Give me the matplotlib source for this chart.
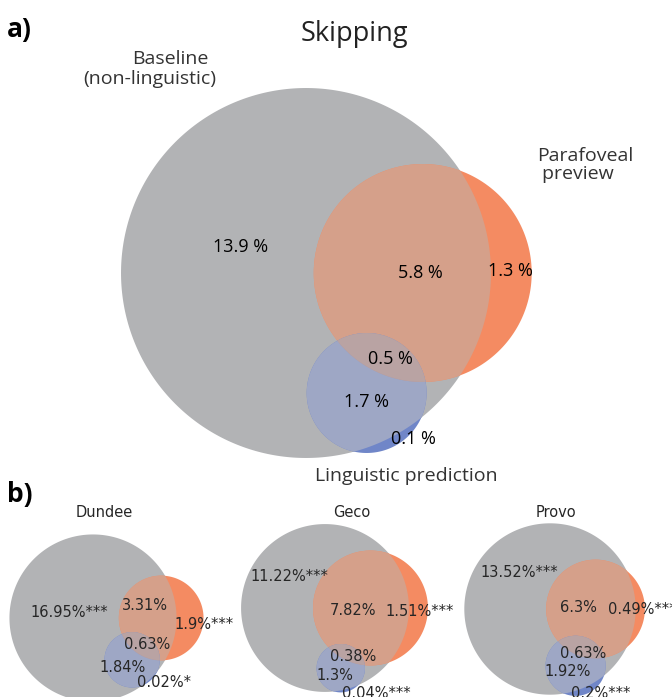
import math
import matplotlib
matplotlib.use("Agg")
import matplotlib.pyplot as plt
from matplotlib.patches import Polygon

# ---------------------------------------------------------------------------
# Data: explained-variance shares per Venn region
# region order: (A only, B only, A&B, C only, A&C, B&C, A&B&C)
# A = baseline (non-linguistic), B = parafoveal preview, C = linguistic prediction
# ---------------------------------------------------------------------------
skipping_regions = [13.9, 1.3, 5.8, 0.1, 1.7, 0.0, 0.5]

corpus_names = ["Dundee", "Geco", "Provo"]
dundee_regions = [16.95, 1.9, 3.31, 0.02, 1.84, 0.0, 0.63]
geco_regions = [11.22, 1.51, 7.82, 0.04, 1.3, 0.0, 0.38]
provo_regions = [13.52, 0.49, 6.3, 0.2, 1.92, 0.0, 0.63]

dundee_stars = ["***", "***", "", "*", "", "", ""]
geco_stars = ["***", "***", "", "***", "", "", ""]
provo_stars = ["***", "***", "", "***", "", "", ""]

set_labels = ["Baseline", "(non-linguistic)", "Parafoveal", " preview",
              "Linguistic prediction"]

# ---------------------------------------------------------------------------
# Colours for each painted layer
GRAY = "#b2b3b5"
ORANGE = "#f48b62"
BLUE = "#7086c8"
GRAY_ORANGE = "#d5a08a"
GRAY_BLUE = "#9ea7c5"
ORANGE_BLUE = "#b497a0"
TRIPLE = "#b9a3a3"

OPEN = ["Open Sans", "DejaVu Sans"]
DEJAVU = ["DejaVu Sans"]
TXT_B = "#262626"


def lens_area(r1, r2, d):
    if d >= r1 + r2:
        return 0.0
    if d <= abs(r1 - r2):
        return math.pi * min(r1, r2) ** 2
    a1 = r1 ** 2 * math.acos((d * d + r1 * r1 - r2 * r2) / (2 * d * r1))
    a2 = r2 ** 2 * math.acos((d * d + r2 * r2 - r1 * r1) / (2 * d * r2))
    k = 0.5 * math.sqrt(max(0.0, (-d + r1 + r2) * (d + r1 - r2) *
                                 (d - r1 + r2) * (d + r1 + r2)))
    return a1 + a2 - k


def distance_for_area(r1, r2, area):
    lo, hi = abs(r1 - r2), r1 + r2
    for _ in range(80):
        mid = 0.5 * (lo + hi)
        if lens_area(r1, r2, mid) > area:
            lo = mid
        else:
            hi = mid
    return 0.5 * (lo + hi)


def venn_layout(regions, scale, anchor):
    """Area-proportional three-circle layout in pixel coordinates."""
    abc_, aBc, ABc, abC, AbC, aBC, ABC = regions
    total = sum(regions)
    size_a = abc_ + ABc + AbC + ABC
    size_b = aBc + ABc + aBC + ABC
    size_c = abC + AbC + aBC + ABC
    unit = math.pi * scale ** 2 / total          # px^2 per percent
    ra = math.sqrt(size_a * unit / math.pi)
    rb = math.sqrt(size_b * unit / math.pi)
    rc = math.sqrt(size_c * unit / math.pi)
    d_ab = distance_for_area(ra, rb, (ABc + ABC) * unit)
    d_ac = distance_for_area(ra, rc, (AbC + ABC) * unit)
    d_bc = distance_for_area(rb, rc, (aBC + ABC) * unit)
    cx = (d_ab ** 2 + d_ac ** 2 - d_bc ** 2) / (2 * d_ab)
    cy = math.sqrt(max(0.0, d_ac ** 2 - cx ** 2))
    x0, y0 = anchor
    return [((x0, y0), ra), ((x0 + d_ab, y0), rb), ((x0 + cx, y0 + cy), rc)]


def circle_poly(center, r, n=360):
    cx, cy = center
    return [(cx + r * math.cos(2 * math.pi * i / n),
             cy + r * math.sin(2 * math.pi * i / n)) for i in range(n)]


def clip_convex(subject, clipper):
    out = list(subject)
    n = len(clipper)
    for i in range(n):
        if not out:
            break
        ax_, ay_ = clipper[i]
        bx_, by_ = clipper[(i + 1) % n]

        def side(p):
            return (bx_ - ax_) * (p[1] - ay_) - (by_ - ay_) * (p[0] - ax_)

        def cross_pt(p, q):
            sp, sq = side(p), side(q)
            t = sp / (sp - sq)
            return (p[0] + t * (q[0] - p[0]), p[1] + t * (q[1] - p[1]))

        inp, out = out, []
        s = inp[-1]
        for e in inp:
            if side(e) >= 0:
                if side(s) < 0:
                    out.append(cross_pt(s, e))
                out.append(e)
            elif side(s) >= 0:
                out.append(cross_pt(s, e))
            s = e
    return out


def draw_venn(ax, circles):
    pa = circle_poly(*circles[0])
    pb = circle_poly(*circles[1])
    pc = circle_poly(*circles[2])
    ab = clip_convex(pb, pa)
    ac = clip_convex(pc, pa)
    bc = clip_convex(pc, pb)
    abc = clip_convex(ac, pb) if ac else []
    layers = [(pa, GRAY), (pb, ORANGE), (ab, GRAY_ORANGE), (pc, BLUE),
              (ac, GRAY_BLUE), (bc, ORANGE_BLUE), (abc, TRIPLE)]
    for poly, col in layers:
        if len(poly) >= 3:
            ax.add_patch(Polygon(poly, closed=True, facecolor=col,
                                 edgecolor="none", linewidth=0))


fig = plt.figure(figsize=(6.72, 6.97), dpi=100)
ax = fig.add_axes([0, 0, 1, 1])
ax.set_xlim(0, 672)
ax.set_ylim(697, 0)
ax.axis("off")

# ---------------- panel a ----------------
circ_a = venn_layout(skipping_regions, 190.8, (306, 273))
draw_venn(ax, circ_a)

ax.text(7, 37, "a)", fontsize=19, fontweight="bold", family=OPEN,
        ha="left", va="baseline")
ax.text(354, 41, "Skipping", fontsize=19.5, family=OPEN, color="#222222",
        ha="center", va="baseline")
ax.text(170, 64, set_labels[0], fontsize=14, family=OPEN, color="#333333",
        ha="center", va="baseline")
ax.text(150, 84, set_labels[1], fontsize=14, family=OPEN, color="#333333",
        ha="center", va="baseline")
ax.text(537, 161, set_labels[2], fontsize=14, family=OPEN, color="#333333",
        ha="left", va="baseline")
ax.text(537, 179, set_labels[3], fontsize=14, family=OPEN, color="#333333",
        ha="left", va="baseline")
ax.text(406, 481, set_labels[4], fontsize=14, family=OPEN, color="#333333",
        ha="center", va="baseline")

# label anchors (x, baseline) for regions: A, B, A&B, C, A&C, A&B&C
a_label_pos = {0: (241, 252), 1: (510, 276), 2: (420, 278),
               3: (413, 444), 4: (366, 407), 6: (390, 364)}
for idx, (x, y) in a_label_pos.items():
    ax.text(x, y, f"{skipping_regions[idx]} %", fontsize=13, family=OPEN,
            color="black", ha="center", va="baseline")

# ---------------- panel b ----------------
ax.text(7, 502, "b)", fontsize=19, fontweight="bold", family=OPEN,
        ha="left", va="baseline")

corpus_regions = [dundee_regions, geco_regions, provo_regions]
corpus_stars = [dundee_stars, geco_stars, provo_stars]
anchors = [(93, 618), (325, 608), (550, 609)]
title_x = [104.5, 351.5, 555.5]
b_label_pos = [
    {0: (69.5, 617), 1: (204, 629), 2: (145, 610), 3: (164.5, 687),
     4: (123, 672), 6: (147, 649)},
    {0: (289.5, 581), 1: (420, 616), 2: (353, 615), 3: (376, 698),
     4: (334.5, 680), 6: (353, 661)},
    {0: (519.5, 577), 1: (642, 614), 2: (578, 612), 3: (600.5, 698),
     4: (568, 676), 6: (583, 658)},
]

for name, regs, stars, anc, tx, pos in zip(corpus_names, corpus_regions,
                                           corpus_stars, anchors, title_x,
                                           b_label_pos):
    draw_venn(ax, venn_layout(regs, 87.0, anc))
    ax.text(tx, 517, name, fontsize=10.5, family=DEJAVU, color=TXT_B,
            ha="center", va="baseline")
    for idx, (x, y) in pos.items():
        ax.text(x, y, f"{regs[idx]}%{stars[idx]}", fontsize=10.5,
                family=DEJAVU, color=TXT_B, ha="center", va="baseline")

fig.savefig("out.png", dpi=100)
